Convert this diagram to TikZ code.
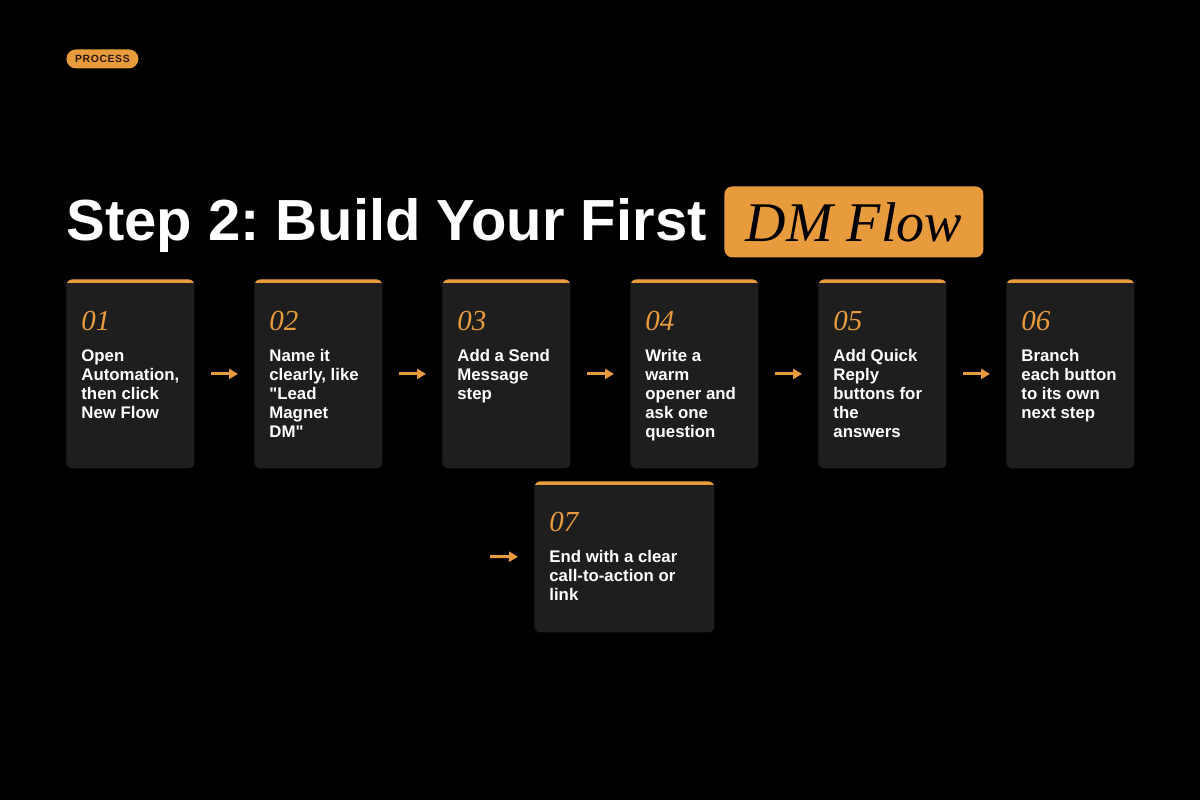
\documentclass[tikz,border=0pt]{standalone}
\usepackage{fontspec}
\setmainfont{Liberation Sans}[Ligatures=TeXOff]
\newfontfamily\numfont{Liberation Serif}
\usetikzlibrary{arrows.meta}
\definecolor{accent}{HTML}{E89B3C}
\definecolor{cardgray}{HTML}{1E1E1E}
\definecolor{pilltext}{HTML}{2B1A08}
\frenchspacing

\begin{document}
\begin{tikzpicture}[
	x=0.5pt, y=-0.5pt,
	card/.style={shape=rectangle, fill=cardgray, rounded corners=3pt, minimum width=64pt, minimum height=94.5pt, inner sep=0pt, anchor=north west,
		path picture={\fill[accent, sharp corners] (path picture bounding box.north west) rectangle ([yshift=-2pt]path picture bounding box.north east);}},
	num/.style={anchor=base west, inner sep=0pt, text=accent, font=\numfont\itshape\fontsize{14.5}{14.5}\selectfont},
	body/.style={anchor=north west, inner sep=0pt, align=left, text=white, font=\bfseries\fontsize{8.4}{9.5}\selectfont},
	flowarrow/.style={draw=accent, line width=1.5pt, -{Triangle[length=4.5pt,width=5pt]}, shorten <=8pt, shorten >=8pt},
]
% canvas
\fill[black] (0,0) rectangle (1200,800);
\useasboundingbox (0,0) rectangle (1200,800);

% header
\node[anchor=north west, fill=accent, rounded corners=4.75pt, minimum width=36pt, minimum height=9.5pt, inner sep=0pt, text=pilltext, font=\bfseries\fontsize{5.2}{5.2}\selectfont\addfontfeature{LetterSpace=6}] (tag) at (66,49) {PROCESS};
\node[anchor=base west, inner sep=0pt, text=white, font=\bfseries\fontsize{29}{29}\selectfont] (title) at (66,240) {Step 2: Build Your First};
\node[anchor=north west, fill=accent, rounded corners=4pt, minimum width=129.5pt, minimum height=35.5pt, inner sep=0pt, text=black, font=\numfont\itshape\fontsize{28}{28}\selectfont] (dm) at (724,186) {DM Flow};

% cards
\node[card] (c1) at (66,279) {};
\node[num] (n1) at (81,330) {01};
\node[body] (t1) at (81,349) {Open\\Automation,\\then click\\New Flow};

\node[card] (c2) at (254,279) {};
\node[num] (n2) at (269,330) {02};
\node[body] (t2) at (269,349) {Name it\\clearly, like\\"Lead\\Magnet\\DM"};

\node[card] (c3) at (442,279) {};
\node[num] (n3) at (457,330) {03};
\node[body] (t3) at (457,349) {Add a Send\\Message\\step};

\node[card] (c4) at (630,279) {};
\node[num] (n4) at (645,330) {04};
\node[body] (t4) at (645,349) {Write a\\warm\\opener and\\ask one\\question};

\node[card] (c5) at (818,279) {};
\node[num] (n5) at (833,330) {05};
\node[body] (t5) at (833,349) {Add Quick\\Reply\\buttons for\\the\\answers};

\node[card] (c6) at (1006,279) {};
\node[num] (n6) at (1021,330) {06};
\node[body] (t6) at (1021,349) {Branch\\each button\\to its own\\next step};

\node[card, minimum width=90pt, minimum height=75.5pt] (c7) at (534,481) {};
\node[num] (n7) at (549,531) {07};
\node[body] (t7) at (549,550) {End with a clear\\call-to-action or\\link};

% arrows
\draw[flowarrow] (c1.east) -- (c2.west);
\draw[flowarrow] (c2.east) -- (c3.west);
\draw[flowarrow] (c3.east) -- (c4.west);
\draw[flowarrow] (c4.east) -- (c5.west);
\draw[flowarrow] (c5.east) -- (c6.west);
\coordinate (a7) at (490,556.5);
\draw[flowarrow, shorten <=0pt] (a7) -- (c7.west);
\end{tikzpicture}
\end{document}
